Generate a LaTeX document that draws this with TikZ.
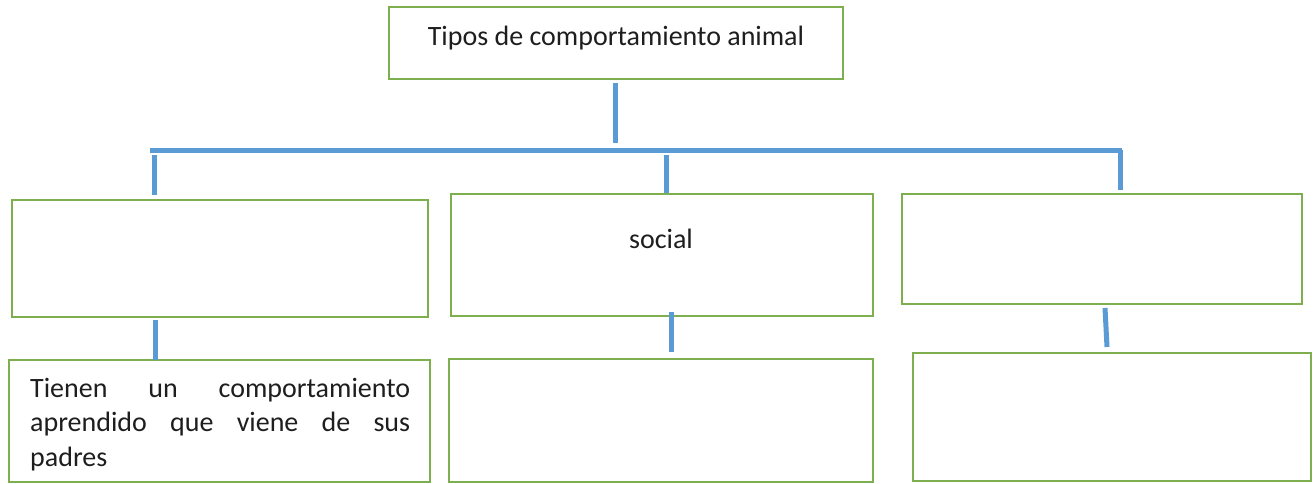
\documentclass[tikz,border=0pt]{standalone}
\usepackage{fontspec}
\setmainfont{Carlito}
\definecolor{boxgreen}{HTML}{7DAF4E}
\definecolor{linkblue}{HTML}{5B9BD5}
\definecolor{txt}{HTML}{1E1E1E}
\tikzset{
  box/.style={draw=boxgreen, line width=2pt, fill=white, inner sep=0pt, rectangle},
  conn/.style={draw=linkblue, line width=5pt},
  lbl/.style={inner sep=0pt, text=txt, font=\fontsize{28pt}{34.5pt}\selectfont},
}
\newcommand{\fullline}[1]{\leavevmode\hbox to 380pt{#1}}
\begin{document}
\begin{tikzpicture}[x=1pt,y=-1pt]
\useasboundingbox[fill=white] (0,0) rectangle (1316,483);
% boxes
\node[box, minimum width=454pt, minimum height=72pt] (top) at (616,43) {};
\node[box, minimum width=416pt, minimum height=117pt] (a1) at (220,258.5) {};
\node[box, minimum width=422pt, minimum height=122pt] (a2) at (662,255) {};
\node[box, minimum width=400pt, minimum height=110pt] (a3) at (1102,249) {};
\node[box, minimum width=421pt, minimum height=122pt] (b1) at (219.5,421) {};
\node[box, minimum width=424pt, minimum height=123pt] (b2) at (661,420.5) {};
\node[box, minimum width=398pt, minimum height=128pt] (b3) at (1112,417) {};
% texts
\node[lbl] (ttop) at (616,38) {Tipos de comportamiento animal};
\node[lbl] (tsoc) at (661,239) {social};
\node[lbl, anchor=north west, text width=380pt, align=left] (tb1) at (30,378)
  {\fullline{Tienen\hfill un\hfill comportamiento}\\
   \fullline{aprendido\hfill que\hfill viene\hfill de\hfill sus}\\
   padres};
% connector coordinates
\coordinate (hl) at (150,150);
\coordinate (hr) at (1122,150);
\coordinate (t1) at (615,83);
\coordinate (t2) at (615,143);
\coordinate (d1a) at (154,155);
\coordinate (d1b) at (154,195);
\coordinate (d2a) at (666,155);
\coordinate (d2b) at (666,193);
\coordinate (d3b) at (1120,190);
\coordinate (e1a) at (155,320);
\coordinate (e1b) at (155,360);
\coordinate (e2a) at (671,312);
\coordinate (e2b) at (671,352);
\coordinate (e3a) at (1105,308);
\coordinate (e3b) at (1107,347);
% connectors
\draw[conn] (t1) -- (t2);
\draw[conn] (hl) -- (hr);
\draw[conn] (d1a) -- (d1b);
\draw[conn] (d2a) -- (d2b);
\draw[conn] ([xshift=-2pt]hr) -- (hr -| d3b) -- (d3b);
\draw[conn] (e1a) -- (e1b);
\draw[conn] (e2a) -- (e2b);
\draw[conn] (e3a) -- (e3b);
\end{tikzpicture}
\end{document}
